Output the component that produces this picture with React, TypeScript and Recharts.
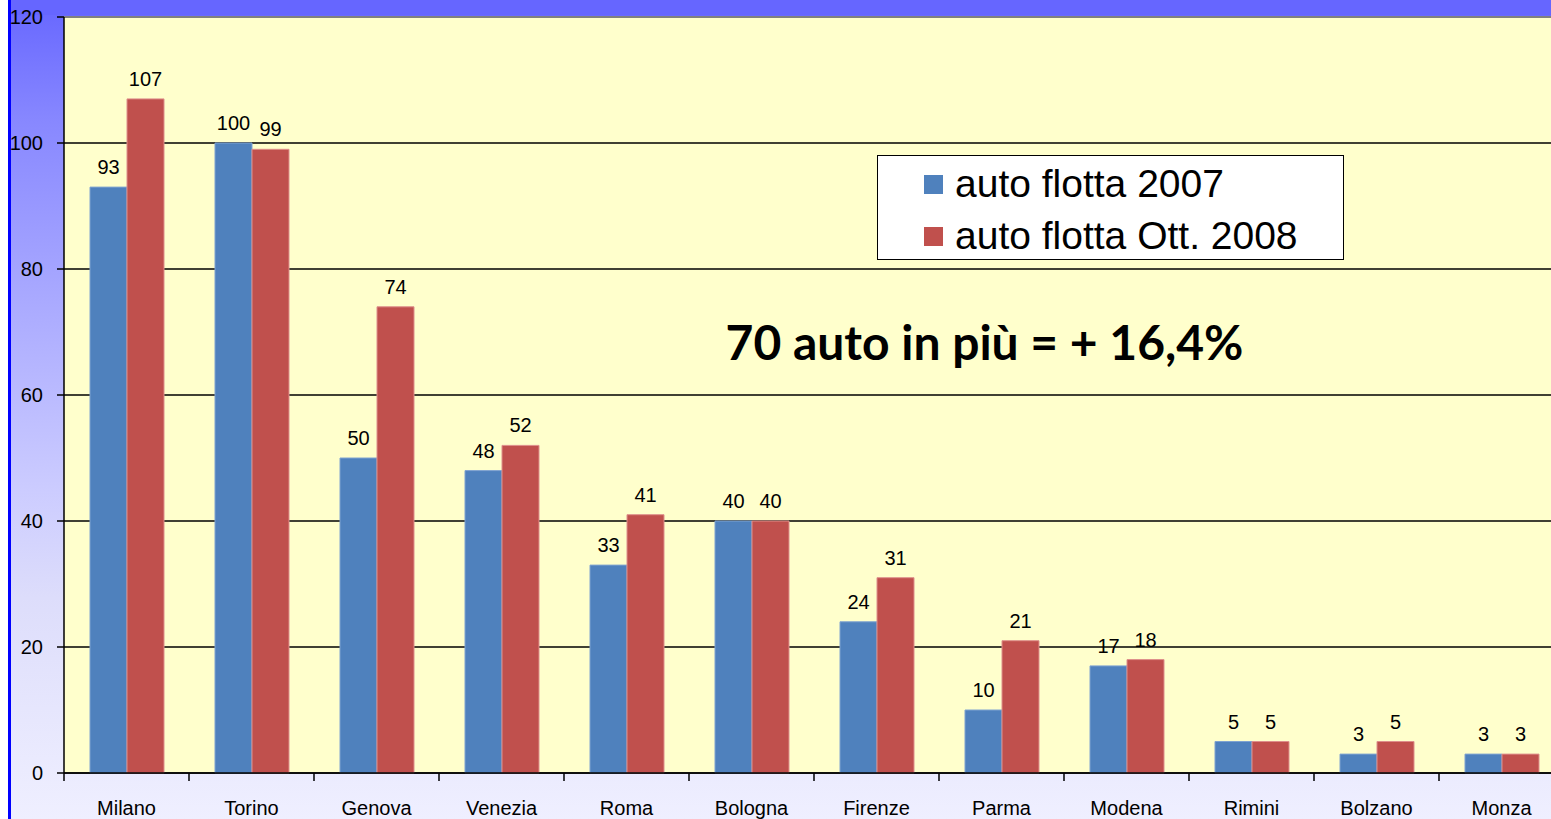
import { BarChart, Bar, XAxis, YAxis, CartesianGrid, Legend, LabelList, ReferenceLine } from "recharts";

const categories = ["Milano", "Torino", "Genova", "Venezia", "Roma", "Bologna", "Firenze", "Parma", "Modena", "Rimini", "Bolzano", "Monza"];
const fleet2007 = [93, 100, 50, 48, 33, 40, 24, 10, 17, 5, 3, 3];
const fleet2008 = [107, 99, 74, 52, 41, 40, 31, 21, 18, 5, 5, 3];
const yTicks = [0, 20, 40, 60, 80, 100, 120];

const seriesNames = ["auto flotta 2007", "auto flotta Ott. 2008"];
const seriesColors = ["#4F81BD", "#C0504D"];
const note = "70 auto in più = + 16,4%";

const W = 1551;
const H = 819;
// the original chart runs past the right edge of the picture
const CHART_W = 1564;
const Y_AXIS_W = 64;
const PLOT_W = CHART_W - Y_AXIS_W;
const FONT = "'Liberation Sans', Arial, sans-serif";

const data = categories.map((city, i) => ({
    city,
    a: fleet2007[i],
    b: fleet2008[i],
}));

function XTick(props: any) {
    const { x, y, payload } = props;
    const bw = PLOT_W / categories.length;
    const left = x - bw / 2;
    return (
        <g>
            <line x1={left} x2={left} y1={y} y2={y + 8} stroke="#000" strokeWidth={1.5} />
            <text x={x} y={y + 42} textAnchor="middle" fontSize={20} fill="#000" fontFamily={FONT}>
                {payload.value}
            </text>
        </g>
    );
}

function LegendBox() {
    return (
        <div
            style={{
                boxSizing: "border-box",
                width: 467,
                height: 105,
                background: "#fff",
                border: "1.5px solid #000",
                paddingLeft: 46,
                paddingTop: 2,
                fontFamily: FONT,
                fontSize: 39,
                color: "#000",
                overflow: "hidden",
            }}
        >
            {seriesNames.map((n, i) => (
                <div key={n} style={{ display: "flex", alignItems: "center", height: 52 }}>
                    <span style={{ width: 19, height: 19, background: seriesColors[i], marginRight: 12, display: "inline-block" }} />
                    <span style={{ lineHeight: "52px" }}>{n}</span>
                </div>
            ))}
        </div>
    );
}

export default function App() {
    return (
        <div style={{ position: "absolute", left: 0, top: 0, width: W, height: H, background: "#fff", overflow: "hidden" }}>
            <div
                style={{
                    position: "absolute",
                    left: 8,
                    top: 0,
                    width: W - 8,
                    height: H,
                    boxSizing: "border-box",
                    borderLeft: "3px solid #0000FF",
                    background: "linear-gradient(#6666FF 0%, #8888FF 15%, #AAAAFF 37%, #CCCCFF 60%, #DDDDFB 73%, #EFEFFF 100%)",
                }}
            />
            <div style={{ position: "absolute", left: 11, top: 0, width: W - 11, height: 15, background: "#6666FF" }} />
            <div style={{ position: "absolute", left: 0, top: 0 }}>
                <BarChart
                    width={CHART_W}
                    height={H}
                    data={data}
                    margin={{ top: 17, right: 0, bottom: 0, left: 0 }}
                    barCategoryGap={26}
                    barGap={0}
                    style={{ fontFamily: FONT }}
                >
                    <CartesianGrid vertical={false} stroke="#000" strokeWidth={1.5} fill="#FFFFCC" fillOpacity={1} />
                    <XAxis
                        dataKey="city"
                        height={46}
                        interval={0}
                        tickLine={false}
                        tickSize={0}
                        tickMargin={0}
                        axisLine={{ stroke: "#000", strokeWidth: 1.5 }}
                        tick={<XTick />}
                    />
                    <YAxis
                        width={Y_AXIS_W}
                        domain={[0, 120]}
                        ticks={yTicks}
                        interval={0}
                        tickSize={7}
                        tickMargin={14}
                        tickLine={{ stroke: "#000", strokeWidth: 1.5 }}
                        axisLine={{ stroke: "#000", strokeWidth: 1.5 }}
                        tick={{ fill: "#000", fontSize: 20, fontFamily: FONT }}
                    />
                    <ReferenceLine y={120} stroke="#808080" strokeWidth={2} />
                    <Legend
                        layout="vertical"
                        align="center"
                        verticalAlign="middle"
                        content={<LegendBox />}
                        wrapperStyle={{ position: "absolute", left: 877, top: 155, width: 467, height: 105 }}
                    />
                    <Bar dataKey="a" name={seriesNames[0]} fill={seriesColors[0]} stroke="#7FA3D1" strokeWidth={1} isAnimationActive={false}>
                        <LabelList dataKey="a" position="top" offset={13} fill="#000" fontSize={20} fontFamily={FONT} />
                    </Bar>
                    <Bar dataKey="b" name={seriesNames[1]} fill={seriesColors[1]} stroke="#DE8F8C" strokeWidth={1} isAnimationActive={false}>
                        <LabelList dataKey="b" position="top" offset={13} fill="#000" fontSize={20} fontFamily={FONT} />
                    </Bar>
                </BarChart>
            </div>
            <div
                style={{
                    position: "absolute",
                    left: 724,
                    top: 312,
                    width: 521,
                    textAlign: "center",
                    whiteSpace: "nowrap",
                    fontFamily: "Lato, 'Open Sans', sans-serif",
                    fontWeight: 700,
                    fontSize: 48,
                    lineHeight: "60px",
                    color: "#000",
                }}
            >
                {note}
            </div>
        </div>
    );
}
